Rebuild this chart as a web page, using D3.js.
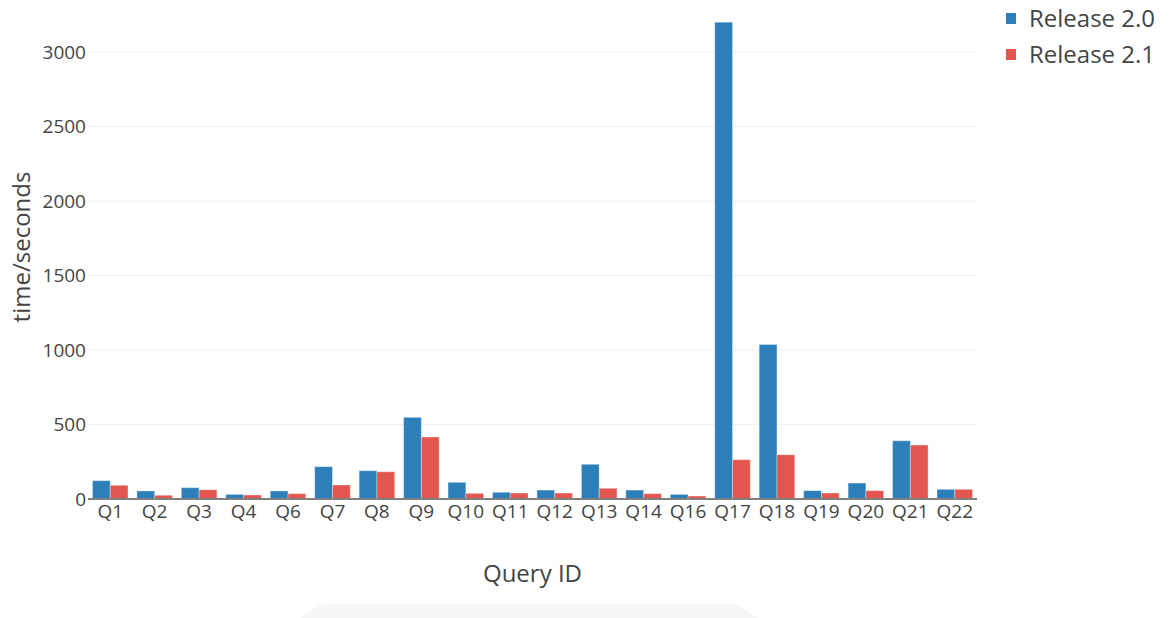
<!DOCTYPE html>
<html>
<head>
<meta charset="utf-8">
<script src="https://cdn.jsdelivr.net/npm/d3@7"></script>
<style>
  body { margin: 0; background: #fff; }
  svg { display: block; font-family: 'Open Sans', sans-serif; }
</style>
</head>
<body>
<svg width="1170" height="618"></svg>
<script>
const queries = ['Q1', 'Q2', 'Q3', 'Q4', 'Q6', 'Q7', 'Q8', 'Q9', 'Q10', 'Q11', 'Q12', 'Q13', 'Q14', 'Q16', 'Q17', 'Q18', 'Q19', 'Q20', 'Q21', 'Q22']
const release20 = [123, 54, 76, 31, 54, 217, 190, 548, 112, 45, 60, 233, 60, 31, 3200, 1037, 56, 107, 391, 65]
const release21 = [92, 25, 62, 27, 36, 94, 183, 416, 38, 40, 40, 72, 36, 20, 264, 297, 40, 56, 362, 65]
const seriesNames = ['Release 2.0', 'Release 2.1']
const seriesColors = ['#2c7fb8', '#e3564f']
const yTicks = [0, 500, 1000, 1500, 2000, 2500, 3000]

const svg = d3.select('svg')
const plotLeft = 88, plotRight = 977, plotTop = 7.3, plotBottom = 499

const x = d3.scaleBand().domain(queries).range([plotLeft, plotRight]).paddingInner(0.2).paddingOuter(0.1)
const x1 = d3.scaleBand().domain(seriesNames).range([0, x.bandwidth()])
const y = d3.scaleLinear().domain([0, 3300]).range([plotBottom, plotTop])

// bottom decoration
svg.append('path')
    .attr('d', 'M300,618 L318,606 Q322,604 328,604 L730,604 Q736,604 740,606 L758,618 Z')
    .attr('fill', '#f7f7f7')

// grid
svg.append('g')
    .selectAll('line')
    .data(yTicks.filter(d => d > 0))
    .enter()
    .append('line')
    .attr('x1', plotLeft)
    .attr('x2', plotRight)
    .attr('y1', d => y(d))
    .attr('y2', d => y(d))
    .attr('stroke', '#eee')
    .attr('stroke-width', 1)

const rows = queries.map((q, i) => ({ q, vals: [release20[i], release21[i]] }))

const group = svg.append('g')
    .selectAll('g')
    .data(rows)
    .enter()
    .append('g')
    .attr('transform', d => `translate(${x(d.q)},0)`)

group.selectAll('rect')
    .data(d => d.vals.map((v, k) => ({ v, k })))
    .enter()
    .append('rect')
    .attr('x', d => x1(seriesNames[d.k]))
    .attr('width', x1.bandwidth())
    .attr('y', d => y(d.v))
    .attr('height', d => y(0) - y(d.v))
    .attr('fill', d => seriesColors[d.k])
    .attr('stroke', 'rgba(255,255,255,0.35)')
    .attr('stroke-width', 1)

// zero line
svg.append('line')
    .attr('x1', plotLeft)
    .attr('x2', plotRight)
    .attr('y1', y(0))
    .attr('y2', y(0))
    .attr('stroke', '#808080')
    .attr('stroke-width', 2)

// y axis labels
svg.append('g')
    .selectAll('text')
    .data(yTicks)
    .enter()
    .append('text')
    .attr('x', 86)
    .attr('y', d => y(d))
    .attr('dy', '0.35em')
    .attr('text-anchor', 'end')
    .attr('font-size', 19)
    .attr('fill', '#444')
    .text(d => d)

// x axis labels
svg.append('g')
    .selectAll('text')
    .data(queries)
    .enter()
    .append('text')
    .attr('x', d => x(d) + x.bandwidth() / 2)
    .attr('y', 518)
    .attr('text-anchor', 'middle')
    .attr('font-size', 19)
    .attr('fill', '#444')
    .text(d => d)

svg.append('text')
    .attr('x', (plotLeft + plotRight) / 2)
    .attr('y', 582)
    .attr('text-anchor', 'middle')
    .attr('font-size', 24)
    .attr('fill', '#444')
    .text('Query ID')

svg.append('text')
    .attr('transform', 'translate(30,247) rotate(-90)')
    .attr('text-anchor', 'middle')
    .attr('font-size', 24)
    .attr('fill', '#444')
    .text('time/seconds')

// legend
const legend = svg.append('g')
    .selectAll('g')
    .data(seriesNames)
    .enter()
    .append('g')
    .attr('transform', (d, i) => `translate(1006,${13 + i * 36})`)

legend.append('rect')
    .attr('width', 10)
    .attr('height', 11)
    .attr('fill', (d, i) => seriesColors[i])

legend.append('text')
    .attr('x', 23)
    .attr('y', 14)
    .attr('font-size', 24)
    .attr('fill', '#444')
    .text(d => d)
</script>
</body>
</html>
